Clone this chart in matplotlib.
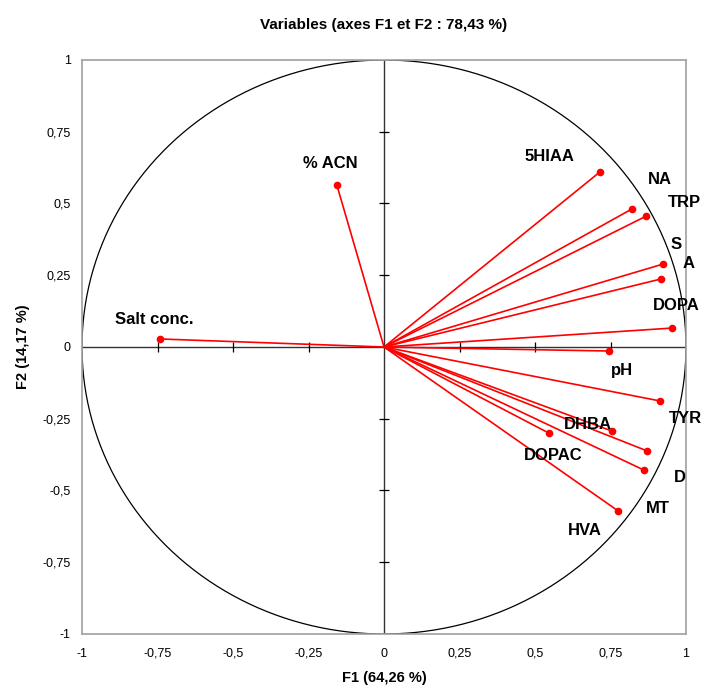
import numpy as np
import matplotlib
matplotlib.use("Agg")
import matplotlib.pyplot as plt

plt.rcParams['font.family'] = ['Liberation Sans', 'DejaVu Sans']

# correlation circle coordinates
names = ["% ACN", "Salt conc.", "5HIAA", "NA", "TRP", "S", "A", "DOPA",
         "pH", "TYR", "DHBA", "D", "MT", "DOPAC", "HVA"]
f1 = [-0.156, -0.742, 0.715, 0.821, 0.868, 0.924, 0.917, 0.954,
      0.745, 0.914, 0.755, 0.871, 0.861, 0.546, 0.775]
f2 = [0.564, 0.028, 0.610, 0.481, 0.456, 0.289, 0.237, 0.066,
      -0.014, -0.188, -0.293, -0.362, -0.429, -0.300, -0.571]

ticks = [-1, -0.75, -0.5, -0.25, 0, 0.25, 0.5, 0.75, 1]
tick_labels = ["-1", "-0,75", "-0,5", "-0,25", "0", "0,25", "0,5", "0,75", "1"]

# label offsets in pixels (dx, dy) relative to each point
offsets = {
    "% ACN": (-7, 22), "Salt conc.": (-6, 19), "5HIAA": (-50, 15),
    "NA": (28, 29), "TRP": (38, 14), "S": (13, 20), "A": (28, 15),
    "DOPA": (4, 23), "pH": (13, -19), "TYR": (25, -18), "DHBA": (-24, 7),
    "D": (33, -27), "MT": (14, -38), "DOPAC": (4, -22), "HVA": (-33, -20),
}

fig = plt.figure(figsize=(7.05, 6.9), dpi=100)
ax = fig.add_axes([82 / 705, 1 - 634 / 690, 604 / 705, 574 / 690])
ax.set_xlim(-1, 1)
ax.set_ylim(-1, 1)

for s in ax.spines.values():
    s.set_color("#a0a0a0")
    s.set_linewidth(1.2)

# unit circle
t = np.linspace(0, 2 * np.pi, 400)
ax.plot(np.cos(t), np.sin(t), color="black", lw=0.9, zorder=2)

# central axes with crossing ticks
ax.axhline(0, color="#333333", lw=1.0, zorder=2)
ax.axvline(0, color="#333333", lw=1.0, zorder=2)
inner = [v for v in ticks if -1 < v < 1 and v != 0]
ax.plot(inner, [0] * len(inner), ls="none", marker="|", color="black",
        markersize=7, mew=0.9, zorder=2)
ax.plot([0] * len(inner), inner, ls="none", marker="_", color="black",
        markersize=7, mew=0.9, zorder=2)

for name, x, y in zip(names, f1, f2):
    ax.plot([0, x], [0, y], color="red", lw=1.2, zorder=3)
    ax.plot(x, y, "o", color="red", markersize=4.5, zorder=4)
    dx, dy = offsets[name]
    ax.annotate(name, (x, y), xytext=(dx, dy), textcoords="offset pixels",
                ha="center", va="center", fontsize=12, fontweight="bold",
                zorder=5)

ax.set_xticks(ticks)
ax.set_xticklabels(tick_labels)
ax.set_yticks(ticks)
ax.set_yticklabels(tick_labels)
ax.tick_params(length=0, labelsize=9)
ax.tick_params(axis="x", pad=10)
ax.tick_params(axis="y", pad=8)

ax.set_xlabel("F1 (64,26 %)", fontsize=10.5, fontweight="bold", labelpad=8)
ax.set_ylabel("F2 (14,17 %)", fontsize=10.5, fontweight="bold", labelpad=9)
ax.set_title("Variables (axes F1 et F2 : 78,43 %)", fontsize=11,
             fontweight="bold", pad=22)

fig.savefig("out.png", dpi=100)
